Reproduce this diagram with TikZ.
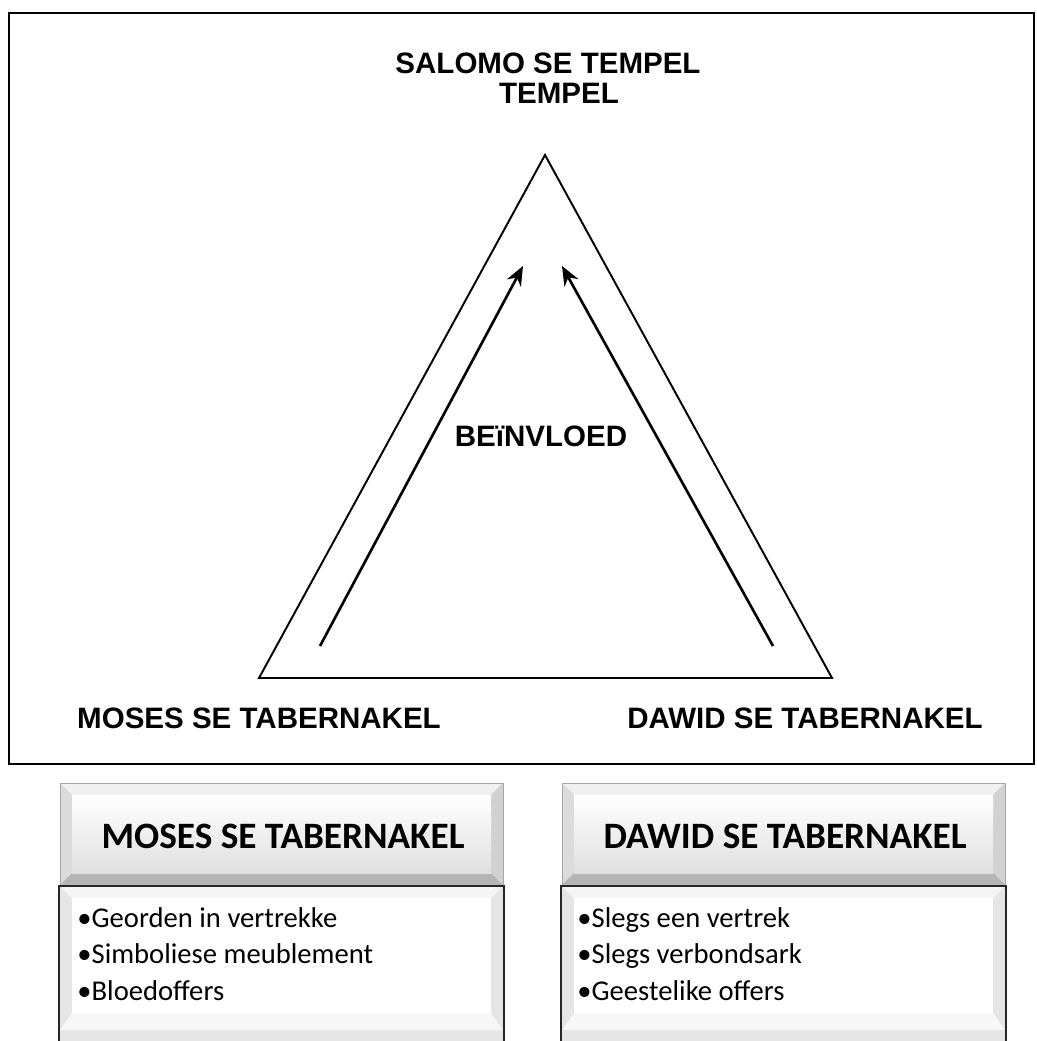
\documentclass[tikz,border=0pt]{standalone}
\usepackage{fontspec}
\setmainfont{Liberation Sans}
\newfontfamily\calibri{Carlito}
\usetikzlibrary{arrows.meta}

\begin{document}
\begin{tikzpicture}[x=0.02cm, y=-0.02cm,
      frame/.style={draw=black, line width=1.3pt},
      edge/.style={draw=black, line width=1.1pt, line join=miter},
      influence/.style={-{Stealth[length=11pt, width=9pt]}, line width=1.5pt},
      title/.style={font=\fontsize{16.8}{20}\selectfont\bfseries, inner sep=0pt},
      head/.style={font=\calibri\fontsize{21.2}{24}\selectfont\bfseries, inner sep=0pt},
      item/.style={font=\calibri\fontsize{16.3}{19}\selectfont, inner sep=0pt, anchor=base west}]
    \useasboundingbox (0,0) rectangle (1036,1041);
    \fill[white] (0,0) rectangle (1036,1041);

    % upper frame with the triangle
    \draw[frame] (9,13) rectangle (1034,764);
    \node[title, anchor=base] (salomo) at (548,73) {SALOMO SE TEMPEL};
    \node[title, anchor=base] (tempel) at (559,103) {TEMPEL};

    \coordinate (apex) at (545,155);
    \coordinate (bl) at (259,678);
    \coordinate (br) at (832,678);
    \draw[edge] (apex) -- (bl) -- (br) -- cycle;

    \coordinate (lfoot) at (320,646);
    \coordinate (ltip) at (523,266);
    \coordinate (rfoot) at (773,646);
    \coordinate (rtip) at (562,266);
    \draw[influence] (lfoot) -- (ltip);
    \draw[influence] (rfoot) -- (rtip);

    \node[title] (invloed) at (541,436) {BEïNVLOED};
    \node[title, anchor=base] (mosesT) at (259,728) {MOSES SE TABERNAKEL};
    \node[title, anchor=base] (dawidT) at (805,728) {DAWID SE TABERNAKEL};

    % bevelled panels below
    \foreach \px in {60,562} {
      \fill[gray!45] (\px,783) rectangle (\px+443,885);
      \fill[gray!12] (\px,783) -- (\px+443,783) -- (\px+431,795) -- (\px+12,795) -- cycle;
      \fill[gray!28] (\px,783) -- (\px+12,795) -- (\px+12,873) -- (\px,885) -- cycle;
      \fill[gray!36] (\px+443,783) -- (\px+431,795) -- (\px+431,873) -- (\px+443,885) -- cycle;
      \fill[gray!58] (\px,885) -- (\px+12,873) -- (\px+431,873) -- (\px+443,885) -- cycle;
      \shade[top color=white, bottom color=gray!25] (\px+12,795) rectangle (\px+431,873);
      \draw[gray!70, line width=0.4pt] (\px,783) rectangle (\px+443,885);
      \fill[gray!20] (\px,886) rectangle (\px+443,1041);
      \fill[gray!8] (\px,886) -- (\px+443,886) -- (\px+431,898) -- (\px+12,898) -- cycle;
      \fill[white] (\px+12,898) rectangle (\px+431,1013);
      \fill[gray!6] (\px+12,1013) -- (\px+431,1013) -- (\px+443,1030) -- (\px,1030) -- cycle;
      \draw[black!85, line width=1.5pt] (\px-1,1041) -- (\px-1,886) -- (\px+444,886) -- (\px+444,1041);
    }

    \node[head, anchor=base] (mosesH) at (283,848) {MOSES SE TABERNAKEL};
    \node[head, anchor=base] (dawidH) at (785,848) {DAWID SE TABERNAKEL};

    \foreach \t [count=\i] in {Georden in vertrekke, Simboliese meublement, Bloedoffers}
      \node[item] (moses\i) at (77,{927+36.7*(\i-1)}) {•\t};
    \foreach \t [count=\i] in {Slegs een vertrek, Slegs verbondsark, Geestelike offers}
      \node[item] (dawid\i) at (577,{927+36.7*(\i-1)}) {•\t};
  \end{tikzpicture}
\end{document}
